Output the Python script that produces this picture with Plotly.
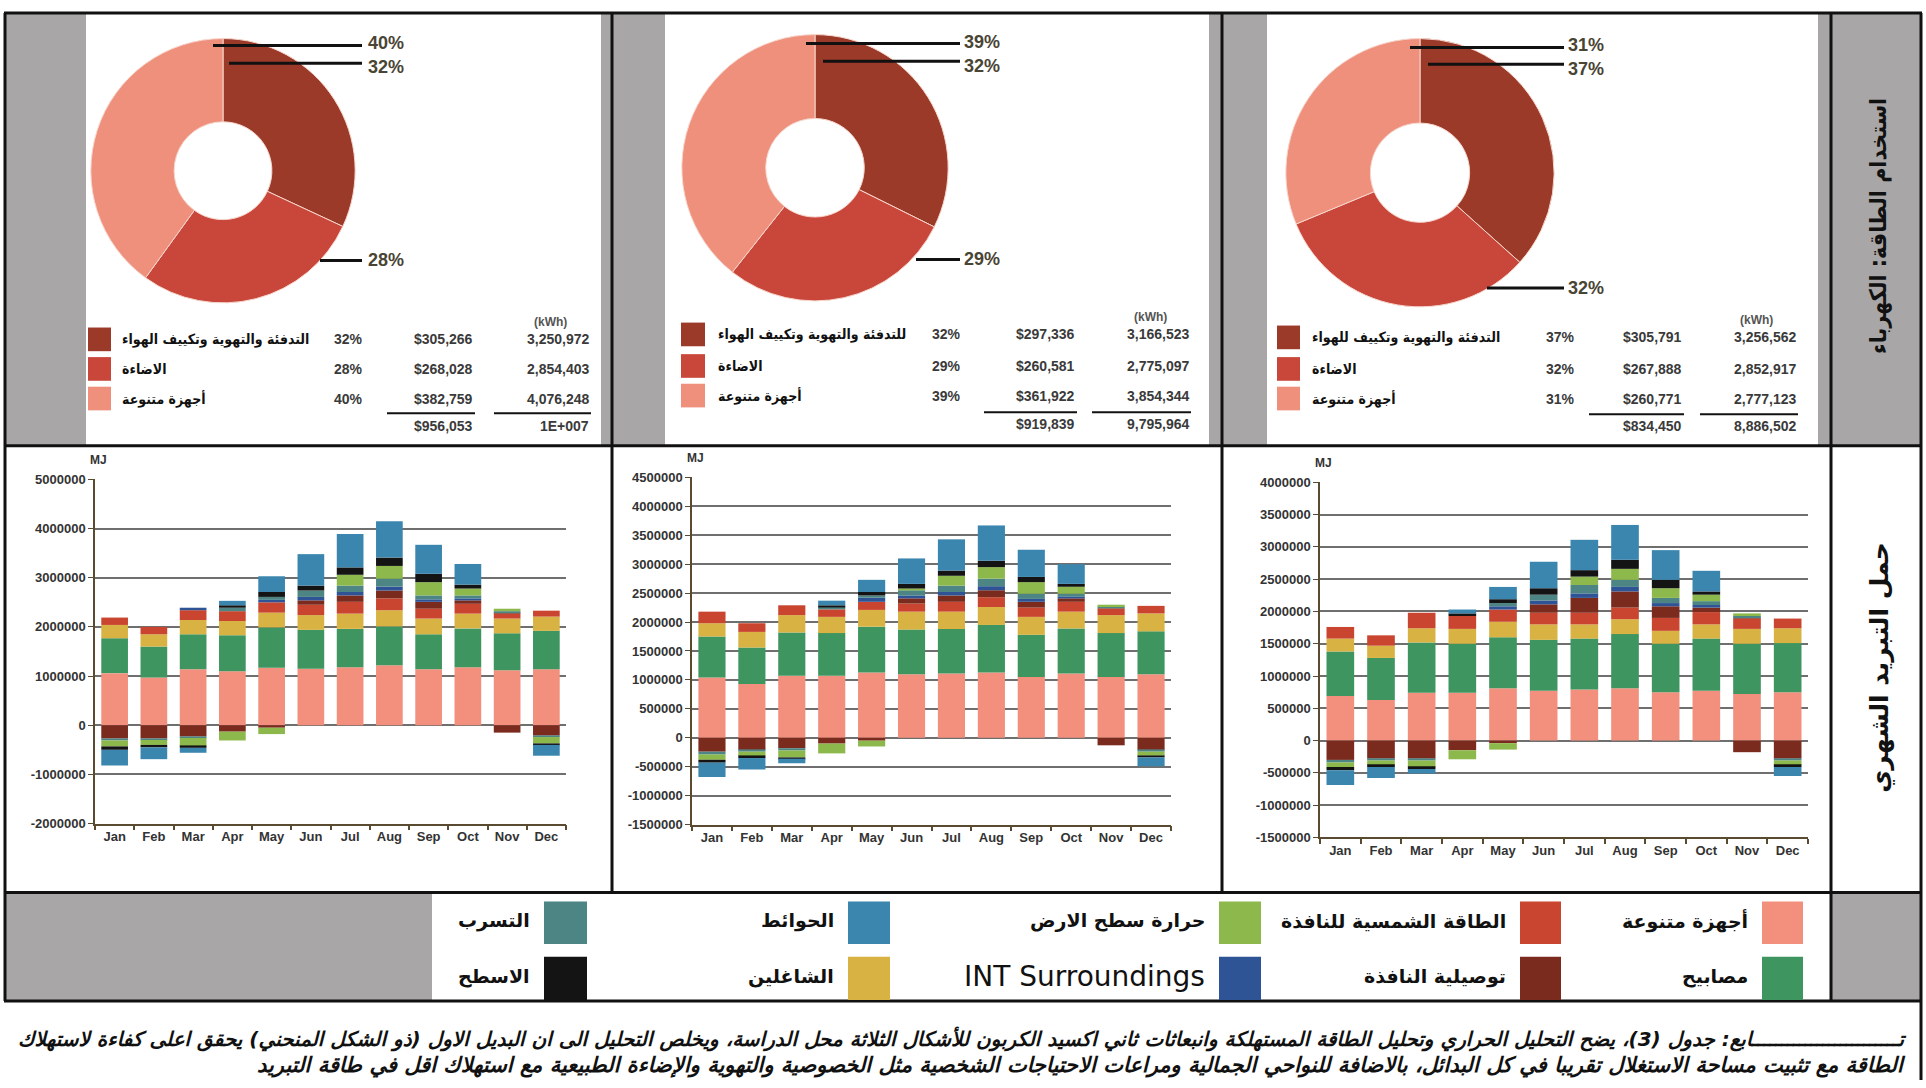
import plotly.graph_objects as go

W, H = 1926, 1088
def X(p): return p / W
def Y(p): return 1 - p / H

# ---------------- data ----------------
MONTHS = ["Jan", "Feb", "Mar", "Apr", "May", "Jun", "Jul", "Aug", "Sep", "Oct", "Nov", "Dec"]

SERIES = ["أجهزة متنوعة", "مصابيح", "الشاغلين", "الطاقة الشمسية للنافذة", "توصيلية النافذة",
          "INT Surroundings", "التسرب", "حرارة سطح الارض", "الاسطح", "الحوائط"]
COLORS = ["#F2907D", "#3F9560", "#D8B343", "#C9452F", "#7B2A1E",
          "#2E5496", "#4D8585", "#8DB84B", "#141414", "#3B86AE"]

# Chart 1 (MJ)
c1_equipment = [1060000, 970000, 1140000, 1100000, 1170000, 1150000, 1180000, 1220000, 1140000, 1180000, 1120000, 1140000]
c1_lights    = [710000, 630000, 710000, 730000, 820000, 790000, 780000, 790000, 710000, 790000, 750000, 780000]
c1_occupants = [270000, 250000, 290000, 290000, 300000, 300000, 310000, 330000, 320000, 300000, 300000, 290000]
c1_solar     = [150000, 150000, 200000, 200000, 210000, 210000, 240000, 240000, 200000, 200000, 120000, 120000]
c1_conduct   = [-270000, -270000, -230000, -130000, -50000, 90000, 130000, 160000, 140000, 70000, -150000, -210000]
c1_int       = [0, 0, 50000, 0, 50000, 70000, 70000, 80000, 50000, 40000, 0, 0]
c1_infil     = [-40000, -30000, -30000, 70000, 60000, 130000, 130000, 160000, 80000, 60000, 30000, -30000]
c1_ground    = [-120000, -100000, -170000, -180000, -130000, 0, 220000, 260000, 270000, 140000, 50000, -130000]
c1_roof      = [-70000, -50000, -30000, 50000, 100000, 100000, 150000, 170000, 170000, 80000, 0, -30000]
c1_walls     = [-320000, -240000, -100000, 90000, 320000, 640000, 680000, 740000, 590000, 420000, 0, -220000]

# Chart 2 (MJ)
c2_equipment = [1040000, 930000, 1070000, 1070000, 1130000, 1100000, 1110000, 1130000, 1050000, 1110000, 1050000, 1100000]
c2_lights    = [710000, 630000, 750000, 740000, 790000, 770000, 770000, 820000, 730000, 780000, 760000, 740000]
c2_occupants = [230000, 270000, 300000, 280000, 290000, 310000, 300000, 310000, 310000, 290000, 310000, 310000]
c2_solar     = [200000, 150000, 170000, 130000, 140000, 140000, 170000, 170000, 160000, 170000, 120000, 130000]
c2_conduct   = [-240000, -210000, -180000, -100000, -50000, 90000, 110000, 120000, 100000, 60000, -130000, -210000]
c2_int       = [0, 0, 0, 0, 70000, 50000, 60000, 70000, 50000, 30000, 0, 0]
c2_infil     = [-50000, -30000, -40000, 40000, 40000, 90000, 110000, 130000, 90000, 50000, 20000, -30000]
c2_ground    = [-90000, -80000, -120000, -170000, -100000, 30000, 170000, 200000, 200000, 120000, 40000, -70000]
c2_roof      = [-50000, -30000, -20000, 30000, 60000, 80000, 90000, 110000, 90000, 50000, 0, -30000]
c2_walls     = [-250000, -200000, -80000, 80000, 210000, 440000, 540000, 610000, 470000, 340000, 0, -150000]

# Chart 3 (MJ)
c3_equipment = [690000, 630000, 740000, 740000, 810000, 770000, 790000, 810000, 750000, 770000, 720000, 750000]
c3_lights    = [690000, 650000, 780000, 760000, 790000, 790000, 790000, 840000, 750000, 810000, 780000, 760000]
c3_occupants = [200000, 190000, 220000, 230000, 240000, 240000, 220000, 230000, 200000, 220000, 230000, 230000]
c3_solar     = [180000, 160000, 240000, 200000, 190000, 180000, 180000, 180000, 200000, 190000, 170000, 150000]
c3_conduct   = [-300000, -280000, -280000, -150000, -40000, 130000, 230000, 250000, 180000, 70000, -180000, -280000]
c3_int       = [0, 0, 0, 0, 50000, 60000, 70000, 70000, 50000, 40000, 0, 0]
c3_infil     = [-40000, -30000, -30000, 0, 50000, 90000, 130000, 110000, 80000, 60000, 30000, -30000]
c3_ground    = [-70000, -70000, -100000, -140000, -100000, 0, 130000, 170000, 150000, 100000, 40000, -70000]
c3_roof      = [-50000, -30000, -30000, 40000, 60000, 100000, 100000, 140000, 130000, 50000, 0, -30000]
c3_walls     = [-230000, -170000, -70000, 60000, 190000, 410000, 470000, 540000, 460000, 320000, 0, -140000]

# y tick labels
Y1_TICKS = [-2000000, -1000000, 0, 1000000, 2000000, 3000000, 4000000, 5000000]
Y1_TEXT = ["-2000000", "-1000000", "0", "1000000", "2000000", "3000000", "4000000", "5000000"]
Y2_TICKS = [-1500000, -1000000, -500000, 0, 500000, 1000000, 1500000, 2000000, 2500000, 3000000, 3500000, 4000000, 4500000]
Y2_TEXT = ["-1500000", "-1000000", "-500000", "0", "500000", "1000000", "1500000", "2000000", "2500000", "3000000", "3500000", "4000000", "4500000"]
Y3_TICKS = [-1500000, -1000000, -500000, 0, 500000, 1000000, 1500000, 2000000, 2500000, 3000000, 3500000, 4000000]
Y3_TEXT = ["-1500000", "-1000000", "-500000", "0", "500000", "1000000", "1500000", "2000000", "2500000", "3000000", "3500000", "4000000"]

# Pie / table data
PIE_COLORS = ["#9C3A29", "#C9473A", "#EF907D"]
p1_labels = ["التدفئة والتهوية وتكييف الهواء", "الاضاءة", "أجهزة متنوعة"]
p2_labels = ["للتدفئة والتهوية وتكييف الهواء", "الاضاءة", "أجهزة متنوعة"]
p3_labels = ["التدفئة والتهوية وتكييف للهواء", "الاضاءة", "أجهزة متنوعة"]
p1_pct = ["32%", "28%", "40%"]
p2_pct = ["32%", "29%", "39%"]
p3_pct = ["37%", "32%", "31%"]
p1_cost = ["$305,266", "$268,028", "$382,759"]
p2_cost = ["$297,336", "$260,581", "$361,922"]
p3_cost = ["$305,791", "$267,888", "$260,771"]
p1_kwh = [3250972, 2854403, 4076248]
p2_kwh = [3166523, 2775097, 3854344]
p3_kwh = [3256562, 2852917, 2777123]
p1_kwh_txt = ["3,250,972", "2,854,403", "4,076,248"]
p2_kwh_txt = ["3,166,523", "2,775,097", "3,854,344"]
p3_kwh_txt = ["3,256,562", "2,852,917", "2,777,123"]
p1_total = ["$956,053", "1E+007"]
p2_total = ["$919,839", "9,795,964"]
p3_total = ["$834,450", "8,886,502"]

ROW_LABEL_TOP = "استخدام الطاقة: الكهرباء"
ROW_LABEL_MID = "حمل التبريد الشهري"
CAPTION_1 = "تـــــــــــــــــــــــــابع: جدول (3)، يضح التحليل الحراري وتحليل الطاقة المستهلكة وانبعاثات ثاني اكسيد الكربون للأشكال الثلاثة محل الدراسة، ويخلص التحليل الى ان البديل الاول (ذو الشكل المنحني) يحقق اعلى كفاءة لاستهلاك"
CAPTION_2 = "الطاقة مع تثبيت مساحة الاستغلال تقريبا في كل البدائل، بالاضافة للنواحي الجمالية ومراعات الاحتياجات الشخصية مثل الخصوصية والتهوية والإضاءة الطبيعية مع استهلاك اقل في طاقة التبريد"

# ---------------- figure ----------------
fig = go.Figure()

GRAY = "#A8A6A7"
AR_FONT = "DejaVu Sans"
AR_COND = "DejaVu Sans Condensed, DejaVu Sans"
NUM_FONT = "Liberation Sans"

charts = [
    dict(series=[c1_equipment, c1_lights, c1_occupants, c1_solar, c1_conduct, c1_int, c1_infil, c1_ground, c1_roof, c1_walls],
         xl=95, xr=566, yt=479, yb=828, rng=[-2000000, 5000000], tv=Y1_TICKS, tt=Y1_TEXT),
    dict(series=[c2_equipment, c2_lights, c2_occupants, c2_solar, c2_conduct, c2_int, c2_infil, c2_ground, c2_roof, c2_walls],
         xl=692, xr=1171, yt=477, yb=829, rng=[-1500000, 4500000], tv=Y2_TICKS, tt=Y2_TEXT),
    dict(series=[c3_equipment, c3_lights, c3_occupants, c3_solar, c3_conduct, c3_int, c3_infil, c3_ground, c3_roof, c3_walls],
         xl=1320, xr=1808, yt=482, yb=842, rng=[-1500000, 4000000], tv=Y3_TICKS, tt=Y3_TEXT),
]

layout_axes = {}
annotations = []
shapes = []

for k, ch in enumerate(charts, start=1):
    for s_idx, vals in enumerate(ch["series"]):
        fig.add_trace(go.Bar(x=MONTHS, y=vals, name=SERIES[s_idx], marker_color=COLORS[s_idx],
                             marker_line_width=0, xaxis=f"x{k}", yaxis=f"y{k}", showlegend=False))
    layout_axes[f"xaxis{k}"] = dict(
        domain=[X(ch["xl"]), X(ch["xr"])], anchor=f"y{k}", type="category",
        tickson="boundaries", ticks="outside", ticklen=5, tickcolor="#5a4a30", tickwidth=1.5,
        showline=True, linecolor="#5a4a30", linewidth=1.5, showgrid=False,
        tickfont=dict(family=NUM_FONT, size=13, color="#333333", weight="bold"), fixedrange=True)
    layout_axes[f"yaxis{k}"] = dict(
        domain=[Y(ch["yb"]), Y(ch["yt"])], anchor=f"x{k}", range=ch["rng"],
        tickvals=ch["tv"], ticktext=ch["tt"], ticks="outside", ticklen=5, tickcolor="#5a4a30",
        showline=True, linecolor="#5a4a30", linewidth=1.5,
        showgrid=True, gridcolor="#6f6f6f", gridwidth=1.5,
        zeroline=True, zerolinecolor="#6f6f6f", zerolinewidth=1.5,
        tickfont=dict(family=NUM_FONT, size=13, color="#333333", weight="bold"), fixedrange=True)
    annotations.append(dict(xref="paper", yref="paper", x=X(ch["xl"] + 3), y=Y(ch["yt"] - 20),
                            text="MJ", showarrow=False, xanchor="center", yanchor="middle",
                            font=dict(family=NUM_FONT, size=12, color="#333333", weight="bold")))

# ---- pies and tables ----
pies = [
    dict(cx=223, cy=166, d=268, vals=p1_kwh, labels=p1_labels, pct=p1_pct, cost=p1_cost, kwh=p1_kwh_txt, tot=p1_total,
         lab_x=[366, 366, 366], lab_y=[37, 61, 257],
         lines=[(213, 39), (229, 57), (320, 257)], line_end=362,
         sq=(88, 111), txt_x=120, pct_x=348, cost_r=475, kwh_r=591, rows=[337, 367, 397], tot_y=425,
         cl=(387, 475), kl=(494, 591), ul_y=412, kwh_hdr=550),
    dict(cx=815, cy=163, d=270, vals=p2_kwh, labels=p2_labels, pct=p2_pct, cost=p2_cost, kwh=p2_kwh_txt, tot=p2_total,
         lab_x=[962, 962, 962], lab_y=[35, 60, 256],
         lines=[(806, 37), (823, 55), (916, 256)], line_end=960,
         sq=(681, 705), txt_x=716, pct_x=946, cost_r=1077, kwh_r=1191, rows=[332, 364, 394], tot_y=423,
         cl=(984, 1077), kl=(1092, 1191), ul_y=411, kwh_hdr=1150),
    dict(cx=1420, cy=168, d=272, vals=p3_kwh, labels=p3_labels, pct=p3_pct, cost=p3_cost, kwh=p3_kwh_txt, tot=p3_total,
         lab_x=[1566, 1566, 1566], lab_y=[39, 63, 285],
         lines=[(1410, 41), (1428, 58), (1487, 285)], line_end=1564,
         sq=(1277, 1300), txt_x=1310, pct_x=1560, cost_r=1684, kwh_r=1798, rows=[335, 367, 397], tot_y=425,
         cl=(1589, 1684), kl=(1700, 1798), ul_y=413, kwh_hdr=1756),
]

for p in pies:
    r = p["d"] / 2
    fig.add_trace(go.Pie(values=p["vals"], labels=p["labels"], hole=0.37, sort=False,
                         direction="clockwise", rotation=0, textinfo="none", hoverinfo="label+percent",
                         marker=dict(colors=PIE_COLORS, line=dict(color="#F6D6CC", width=1)),
                         domain=dict(x=[X(p["cx"] - r), X(p["cx"] + r)], y=[Y(p["cy"] + r), Y(p["cy"] - r)]),
                         showlegend=False))
    lab_order = [2, 0, 1]
    for j, idx in enumerate(lab_order):
        lx, ly = p["lines"][j]
        shapes.append(dict(type="line", xref="paper", yref="paper", x0=X(lx), x1=X(p["line_end"]),
                           y0=Y(ly), y1=Y(ly), line=dict(color="#111111", width=3), layer="above"))
        annotations.append(dict(xref="paper", yref="paper", x=X(p["lab_x"][j]), y=Y(p["lab_y"][j]),
                                text=p["pct"][idx], showarrow=False, xanchor="left", yanchor="middle",
                                font=dict(family=NUM_FONT, size=18, color="#4a4434", weight="bold")))
    annotations.append(dict(xref="paper", yref="paper", x=X(p["kwh_hdr"]), y=Y(p["rows"][0] - 18),
                            text="(kWh)", showarrow=False, xanchor="center", yanchor="middle",
                            font=dict(family=NUM_FONT, size=12, color="#555555", weight="bold")))
    for i in range(3):
        ry = p["rows"][i]
        shapes.append(dict(type="rect", xref="paper", yref="paper", x0=X(p["sq"][0]), x1=X(p["sq"][1]),
                           y0=Y(ry + 12), y1=Y(ry - 12), fillcolor=PIE_COLORS[i], line_width=0, layer="above"))
        annotations.append(dict(xref="paper", yref="paper", x=X(p["txt_x"]), y=Y(ry),
                                text=p["labels"][i], showarrow=False, xanchor="left", yanchor="middle",
                                font=dict(family=AR_COND, size=14, color="#111111", weight="bold")))
        annotations.append(dict(xref="paper", yref="paper", x=X(p["pct_x"]), y=Y(ry),
                                text=p["pct"][i], showarrow=False, xanchor="center", yanchor="middle",
                                font=dict(family=NUM_FONT, size=14, color="#3a3a3a", weight="bold")))
        annotations.append(dict(xref="paper", yref="paper", x=X(p["cost_r"]), y=Y(ry),
                                text=p["cost"][i], showarrow=False, xanchor="right", yanchor="middle",
                                font=dict(family=NUM_FONT, size=14, color="#3a3a3a", weight="bold")))
        annotations.append(dict(xref="paper", yref="paper", x=X(p["kwh_r"]), y=Y(ry),
                                text=p["kwh"][i], showarrow=False, xanchor="right", yanchor="middle",
                                font=dict(family=NUM_FONT, size=14, color="#3a3a3a", weight="bold")))
    for (a, b) in (p["cl"], p["kl"]):
        shapes.append(dict(type="line", xref="paper", yref="paper", x0=X(a), x1=X(b), y0=Y(p["ul_y"]), y1=Y(p["ul_y"]),
                           line=dict(color="#111111", width=2), layer="above"))
    annotations.append(dict(xref="paper", yref="paper", x=X(p["cost_r"]), y=Y(p["tot_y"]),
                            text=p["tot"][0], showarrow=False, xanchor="right", yanchor="middle",
                            font=dict(family=NUM_FONT, size=14, color="#3a3a3a", weight="bold")))
    annotations.append(dict(xref="paper", yref="paper", x=X(p["kwh_r"]), y=Y(p["tot_y"]),
                            text=p["tot"][1], showarrow=False, xanchor="right", yanchor="middle",
                            font=dict(family=NUM_FONT, size=14, color="#3a3a3a", weight="bold")))

# ---- frame: gray bands ----
gray_rects = [(5, 6, 86, 444), (601, 6, 612, 444), (612, 6, 665, 444), (1209, 6, 1222, 444),
              (1222, 6, 1267, 444), (1818, 6, 1832, 444), (1832, 6, 1922, 444),
              (5, 898, 432, 1008), (1830, 898, 1922, 1008)]
for (x0, y0, x1, y1) in gray_rects:
    shapes.append(dict(type="rect", xref="paper", yref="paper", x0=X(x0), x1=X(x1), y0=Y(y1), y1=Y(y0),
                       fillcolor=GRAY, line_width=0, layer="below"))

# ---- frame: black lines ----
hlines = [(6, 4, 1922), (445, 4, 1922), (898, 4, 1922), (1008, 4, 1922)]
for (yy, xa, xb) in hlines:
    shapes.append(dict(type="line", xref="paper", yref="paper", x0=X(xa), x1=X(xb), y0=Y(yy), y1=Y(yy),
                       line=dict(color="#111111", width=3), layer="above"))
vlines = [(5, 6, 1008), (612, 6, 898), (1222, 6, 898), (1831, 6, 1008), (1921, 6, 1088)]
for (xx, ya, yb) in vlines:
    shapes.append(dict(type="line", xref="paper", yref="paper", x0=X(xx), x1=X(xx), y0=Y(ya), y1=Y(yb),
                       line=dict(color="#111111", width=3), layer="above"))

# ---- right column labels ----
annotations.append(dict(xref="paper", yref="paper", x=X(1879), y=Y(222), text=ROW_LABEL_TOP, textangle=-90,
                        showarrow=False, xanchor="center", yanchor="middle",
                        font=dict(family=AR_COND, size=23, color="#111111", weight="bold")))
annotations.append(dict(xref="paper", yref="paper", x=X(1880), y=Y(670), text=ROW_LABEL_MID, textangle=-90,
                        showarrow=False, xanchor="center", yanchor="middle",
                        font=dict(family=AR_FONT, size=25, color="#111111", weight="bold")))

# ---- legend row ----
leg_cols = [(1762, 1803), (1520, 1561), (1219, 1261), (848, 890), (544, 587)]
leg_rows = [(907, 950), (963, 1007)]
leg_layout = [[0, 3, 7, 9, 6], [1, 4, 5, 2, 8]]
for r_i, row in enumerate(leg_layout):
    y0, y1 = leg_rows[r_i]
    for c_i, s_idx in enumerate(row):
        x0, x1 = leg_cols[c_i]
        shapes.append(dict(type="rect", xref="paper", yref="paper", x0=X(x0), x1=X(x1), y0=Y(y1), y1=Y(y0),
                           fillcolor=COLORS[s_idx], line_width=0, layer="above"))
        name = SERIES[s_idx]
        if name.startswith("INT"):
            fnt = dict(family="DejaVu Sans", size=28, color="#111111")
        else:
            fnt = dict(family=AR_FONT, size=19, color="#111111", weight="bold")
        annotations.append(dict(xref="paper", yref="paper", x=X(x0 - 12), y=Y((y0 + y1) / 2 - 2),
                                text=name, showarrow=False, xanchor="right", yanchor="middle", font=fnt))

# ---- caption ----
annotations.append(dict(xref="paper", yref="paper", x=X(1908), y=Y(1046), text="<b><i>" + CAPTION_1 + "</i></b>",
                        showarrow=False, xanchor="right", yanchor="middle",
                        font=dict(family=AR_FONT, size=20, color="#111111")))
annotations.append(dict(xref="paper", yref="paper", x=X(1908), y=Y(1073), text="<b><i>" + CAPTION_2 + "</i></b>",
                        showarrow=False, xanchor="right", yanchor="middle",
                        font=dict(family=AR_FONT, size=21, color="#111111")))

fig.update_layout(
    width=W, height=H, margin=dict(l=0, r=0, t=0, b=0),
    paper_bgcolor="white", plot_bgcolor="rgba(0,0,0,0)",
    barmode="relative", bargap=0.32,
    shapes=shapes, annotations=annotations, showlegend=False,
    **layout_axes,
)

fig.write_html("out.html", config={"displayModeBar": False},
               post_script="document.body.style.margin='0';document.body.style.overflow='hidden';")
